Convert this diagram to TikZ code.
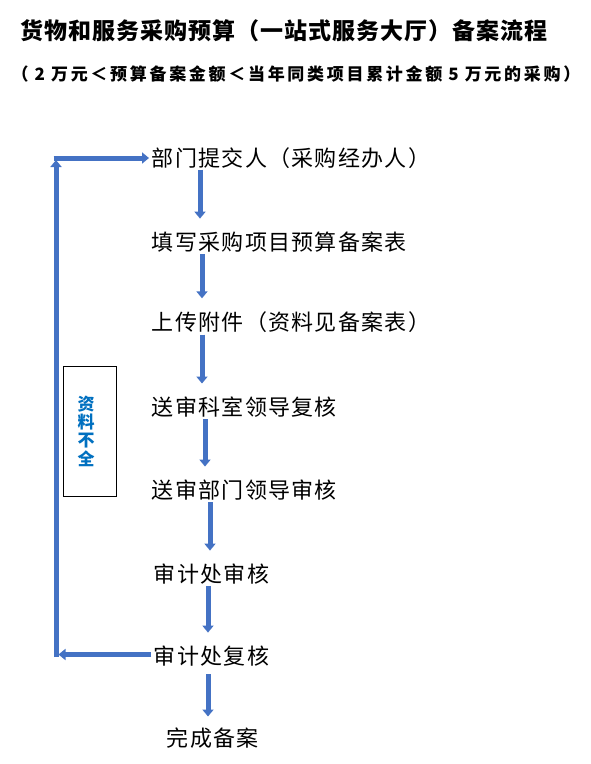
\documentclass[tikz,border=0pt]{standalone}
\usepackage{fontspec}
\setmainfont{Noto Sans CJK SC}
\usetikzlibrary{arrows.meta}
\definecolor{flow}{HTML}{4472C4}
\definecolor{lblue}{HTML}{0070C0}
\newlength\cpitch
\def\spreadx#1{\ifx#1\relax\else\makebox[\cpitch]{#1}\expandafter\spreadx\fi}
\newcommand\spr[2]{\setlength\cpitch{#1}\spreadx#2\relax}
\tikzset{
  stepbox/.style={anchor=west, inner sep=0pt, font=\fontsize{22}{22}\selectfont},
  flowarr/.style={draw=flow, line width=5pt, -{Triangle[width=11pt,length=7pt]}},
}
\begin{document}
\begin{tikzpicture}[x=1pt,y=-1pt]
\useasboundingbox[fill=white] (0,0) rectangle (591,764);
% titles
\node[inner sep=0pt, font=\fontsize{23}{23}\selectfont\bfseries] (title) at (284,31)
  {\spr{24pt}{货物和服务采购预算（一站式服务大厅）备案流程}};
\node[inner sep=0pt, font=\fontsize{17}{17}\selectfont\bfseries] (sub) at (296,74.5)
  {\spr{19.7pt}{（2万元＜预算备案金额＜当年同类项目累计金额5万元的采购）}};
% steps
\node[stepbox] (s1) at (151,158) {\spr{23.3pt}{部门提交人（采购经办人）}};
\node[stepbox] (s2) at (151,242) {\spr{23.3pt}{填写采购项目预算备案表}};
\node[stepbox] (s3) at (151,322) {\spr{23.3pt}{上传附件（资料见备案表）}};
\node[stepbox] (s4) at (151,407) {\spr{23.3pt}{送审科室领导复核}};
\node[stepbox] (s5) at (151,490) {\spr{23.3pt}{送审部门领导审核}};
\node[stepbox] (s6) at (153,574) {\spr{23.3pt}{审计处审核}};
\node[stepbox] (s7) at (153,656) {\spr{23.3pt}{审计处复核}};
\node[stepbox] (s8) at (166,738) {\spr{23.3pt}{完成备案}};
% arrow columns
\coordinate (c1) at (200,0);
\coordinate (c2) at (202,0);
\coordinate (c3) at (202,0);
\coordinate (c4) at (205,0);
\coordinate (c5) at (210,0);
\coordinate (c6) at (208,0);
\coordinate (c7) at (208,0);
% down arrows
\draw[flowarr, shorten <=1pt, shorten >=13pt] (s1.south -| c1) -- (s2.north -| c1);
\draw[flowarr, shorten <=2pt, shorten >=13pt] (s2.south -| c2) -- (s3.north -| c2);
\draw[flowarr, shorten <=2pt, shorten >=13pt] (s3.south -| c3) -- (s4.north -| c3);
\draw[flowarr, shorten <=2pt, shorten >=13pt] (s4.south -| c4) -- (s5.north -| c4);
\draw[flowarr, shorten <=2pt, shorten >=13pt] (s5.south -| c5) -- (s6.north -| c5);
\draw[flowarr, shorten <=2pt, shorten >=13pt] (s6.south -| c6) -- (s7.north -| c6);
\draw[flowarr, shorten <=8pt, shorten >=11pt] (s7.south -| c7) -- (s8.north -| c7);
% feedback loop
\coordinate (lb) at (56,657);
\coordinate (lt) at (56,160);
\coordinate (ht) at (53.5,158);
\coordinate (lbr) at (58.5,654.5);
\draw[flowarr, shorten <=2pt] ([yshift=1.5pt]s7.west) -- (lbr);
\draw[flowarr] (lb) -- (lt);
\draw[flowarr, shorten >=2pt] (ht) -- (s1.west);
% note box
\node[draw=black, line width=0.8pt, minimum width=53pt, minimum height=130pt, inner sep=0pt] (box) at (89.5,431) {};
\node[text=lblue, inner sep=0pt, align=center, font=\fontsize{17}{18.3}\selectfont\bfseries] (lbl) at ([xshift=-3.5pt]box.center) {资\\料\\不\\全};
\end{tikzpicture}
\end{document}
